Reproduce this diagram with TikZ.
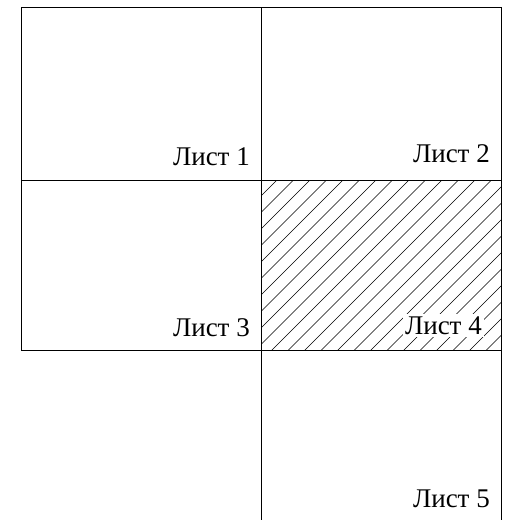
\documentclass[tikz,border=0pt]{standalone}
\usepackage{fontspec}
\setmainfont{Liberation Serif}
\begin{document}
\begin{tikzpicture}[x=1pt,y=-1pt,
  grid/.style={line width=1pt,black},
  hatchline/.style={line width=0.6pt,black},
  lbl/.style={font=\fontsize{27}{30}\selectfont,inner sep=0pt,anchor=base east}]
\useasboundingbox (0,0) rectangle (509,520);
% hatching in sheet 4
\begin{scope}
\clip (261,180) rectangle (501,350);
\foreach \k in {0,...,40}{
  \draw[hatchline] ({277+16.5*(\k-11)},180) -- ({277+16.5*(\k-11)-200},380);
}
\end{scope}
% labels
\node[lbl] (l1) at (250,165) {Лист 1};
\node[lbl] (l2) at (490,162) {Лист 2};
\node[lbl] (l3) at (250,336) {Лист 3};
\node[lbl,fill=white,inner sep=2.5pt] (l4) at (484.5,334.5) {Лист 4};
\node[lbl] (l5) at (490,507) {Лист 5};
% grid lines
\draw[grid] (21,7) -- (501,7);
\draw[grid] (21,180) -- (501,180);
\draw[grid] (21,350) -- (501,350);
\draw[grid] (21,7) -- (21,350);
\draw[grid] (261,7) -- (261,520);
\draw[grid] (501,7) -- (501,520);
\end{tikzpicture}
\end{document}
